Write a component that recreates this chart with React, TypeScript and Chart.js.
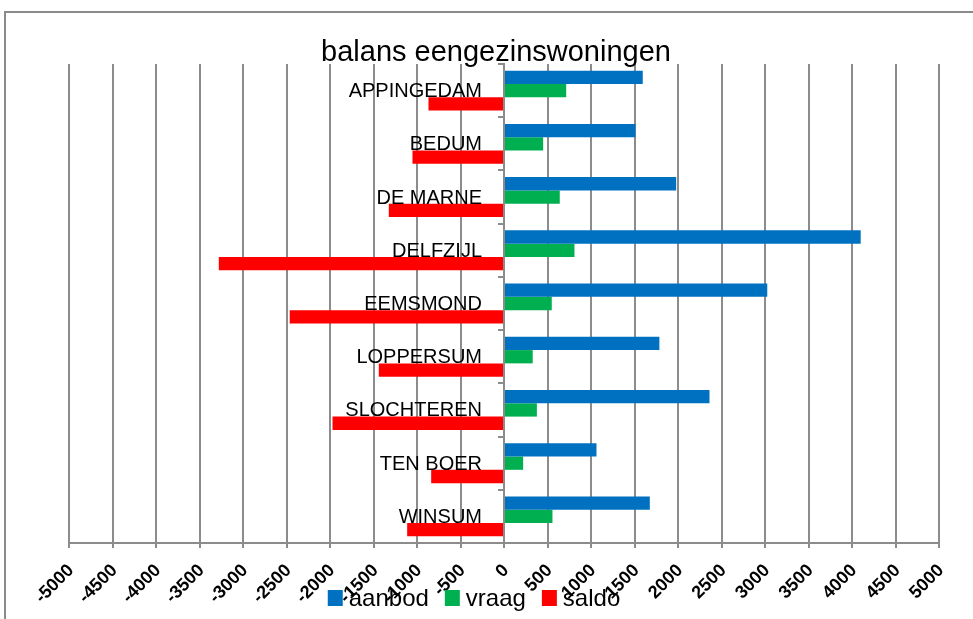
import React, { useEffect, useRef } from "react";
import { Chart, registerables } from "chart.js";

Chart.register(...registerables);

const title = "balans eengezinswoningen";
const categories = [
  "APPINGEDAM",
  "BEDUM",
  "DE MARNE",
  "DELFZIJL",
  "EEMSMOND",
  "LOPPERSUM",
  "SLOCHTEREN",
  "TEN BOER",
  "WINSUM",
];
const aanbod = [1595, 1511, 1979, 4100, 3026, 1786, 2362, 1063, 1676];
const vraag = [715, 450, 641, 810, 549, 330, 378, 220, 557];
const saldo = [-868, -1052, -1324, -3278, -2463, -1439, -1971, -837, -1113];
const seriesNames = ["aanbod", "vraag", "saldo"];
const seriesColors = ["#0070C0", "#00B050", "#FF0000"];
const xMin = -5000;
const xMax = 5000;
const xStep = 500;

const FONT = "'Liberation Sans', Arial, sans-serif";
const GRID = "#8c8c8c";

const framePlugin = {
  id: "frame",
  beforeDraw(chart: any) {
    const ctx = chart.ctx;
    ctx.save();
    ctx.fillStyle = "#ffffff";
    ctx.fillRect(0, 0, chart.width, chart.height);
    ctx.strokeStyle = "#8a8a8a";
    ctx.lineWidth = 2;
    ctx.strokeRect(5, 12, chart.width + 50, chart.height + 50);
    ctx.restore();
  },
};

const titlePlugin = {
  id: "customTitle",
  afterDraw(chart: any) {
    const ctx = chart.ctx;
    ctx.save();
    ctx.font = `29px ${FONT}`;
    ctx.fillStyle = "#000000";
    ctx.textAlign = "center";
    ctx.textBaseline = "alphabetic";
    ctx.fillText(title, 496, 61);
    ctx.restore();
  },
};

// category labels drawn next to the y axis, which sits at x = 0
const categoryLabelPlugin = {
  id: "categoryLabels",
  afterDatasetsDraw(chart: any) {
    const ctx = chart.ctx;
    const xs = chart.scales.x;
    const ys = chart.scales.y;
    const x0 = xs.getPixelForValue(0) - 22;
    ctx.save();
    ctx.font = `20px ${FONT}`;
    ctx.fillStyle = "#000000";
    ctx.textAlign = "right";
    ctx.textBaseline = "middle";
    (chart.data.labels as string[]).forEach((lab, i) => {
      ctx.fillText(lab, x0, ys.getPixelForValue(i) + 1);
    });
    ctx.restore();
  },
};

const legendPlugin = {
  id: "customLegend",
  afterDraw(chart: any) {
    const ctx = chart.ctx;
    ctx.save();
    ctx.font = `24px ${FONT}`;
    const box = 15;
    const gap = 6;
    const itemGap = 16;
    const items = chart.data.datasets.map((d: any) => ({
      label: d.label,
      color: d.backgroundColor,
      w: ctx.measureText(d.label).width,
    }));
    const total =
      items.reduce((s: number, it: any) => s + box + gap + it.w, 0) +
      itemGap * (items.length - 1);
    let x = 474 - total / 2;
    const boxTop = 590;
    const baseline = 606;
    items.forEach((it: any) => {
      ctx.fillStyle = it.color;
      ctx.fillRect(x, boxTop, box, 16);
      ctx.fillStyle = "#000000";
      ctx.textAlign = "left";
      ctx.textBaseline = "alphabetic";
      ctx.fillText(it.label, x + box + gap, baseline);
      x += box + gap + it.w + itemGap;
    });
    ctx.restore();
  },
};

export default function App() {
  const canvasRef = useRef<HTMLCanvasElement | null>(null);

  useEffect(() => {
    if (!canvasRef.current) return;
    const chart = new Chart(canvasRef.current, {
      type: "bar",
      data: {
        labels: categories,
        datasets: [aanbod, vraag, saldo].map((values, i) => ({
          label: seriesNames[i],
          data: values,
          backgroundColor: seriesColors[i],
          borderWidth: 0,
          barPercentage: 1,
          categoryPercentage: 0.75,
        })),
      },
      options: {
        indexAxis: "y",
        animation: false,
        responsive: false,
        maintainAspectRatio: false,
        devicePixelRatio: 1,
        layout: { padding: { left: 69, right: 34, top: 64, bottom: 0 } },
        plugins: {
          legend: { display: false },
          title: { display: false },
          tooltip: { enabled: false },
        },
        scales: {
          x: {
            type: "linear",
            min: xMin,
            max: xMax,
            position: "bottom",
            afterFit: (s: any) => {
              s.height = 76;
            },
            ticks: {
              stepSize: xStep,
              autoSkip: false,
              minRotation: 45,
              maxRotation: 45,
              padding: 12,
              labelOffset: 2,
              color: "#000000",
              font: { family: FONT, size: 18, weight: "bold" },
              callback: (v: any) => String(v),
            },
            grid: {
              color: GRID,
              lineWidth: 2,
              drawTicks: true,
              tickLength: 5,
            },
            border: { display: true, color: GRID, width: 2 },
          },
          y: {
            type: "category",
            position: { x: 0 } as any,
            offset: true,
            ticks: { display: false },
            grid: {
              display: true,
              drawOnChartArea: false,
              drawTicks: true,
              tickLength: 5,
              color: GRID,
              lineWidth: 2,
            },
            border: { display: true, color: GRID, width: 2 },
          },
        },
      },
      plugins: [framePlugin, categoryLabelPlugin, titlePlugin, legendPlugin],
    });
    return () => chart.destroy();
  }, []);

  return (
    <div style={{ position: "absolute", left: 0, top: 0, width: 973, height: 619 }}>
      <canvas ref={canvasRef} width={973} height={619} style={{ width: 973, height: 619, display: "block" }} />
    </div>
  );
}
